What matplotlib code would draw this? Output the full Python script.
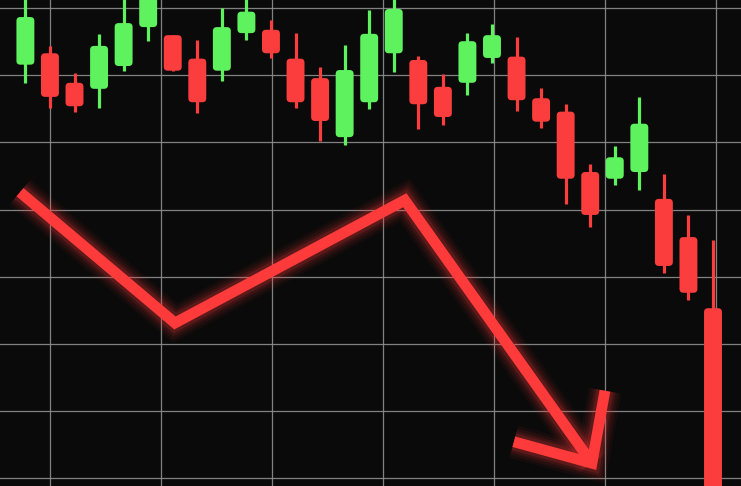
import matplotlib.pyplot as plt
from matplotlib.patches import FancyBboxPatch
import numpy as np

# candle prices (open, close, high, low)
opens = [161.6, 163.3, 158.9, 158.0, 161.4, 167.2, 166.0, 162.5, 160.7, 166.3,
         166.8, 162.5, 159.6, 150.8, 156.0, 163.3, 162.3, 158.3, 158.9, 162.6,
         162.8, 156.6, 154.6, 145.6, 144.6, 145.6, 141.6, 135.9, 125.3]
closes = [168.7, 156.8, 155.4, 164.4, 167.8, 172.0, 160.7, 156.0, 167.2, 169.5,
          163.3, 156.0, 153.2, 160.8, 166.2, 169.9, 155.7, 153.8, 165.1, 166.0,
          156.3, 153.1, 144.6, 139.2, 147.8, 152.8, 131.6, 127.6, 95.0]
highs = [172.5, 164.4, 160.4, 166.2, 171.7, 172.7, 166.0, 165.3, 170.1, 172.3,
         168.3, 166.3, 161.3, 164.5, 169.8, 172.5, 162.9, 160.2, 166.3, 167.7,
         165.7, 158.1, 155.7, 146.8, 149.5, 156.8, 145.3, 139.2, 135.5]
lows = [158.9, 155.1, 154.6, 155.1, 160.7, 165.1, 160.7, 154.4, 159.2, 165.3,
        162.6, 155.1, 150.2, 149.6, 155.0, 160.5, 152.0, 152.6, 157.1, 161.9,
        154.7, 152.2, 140.8, 137.4, 143.7, 142.9, 130.6, 126.5, 95.0]

# the glowing trend arrow (candle index, price)
arrow_x = [-0.22, 6.09, 15.45, 23.07]
arrow_y = [142.6, 123.1, 141.4, 102.2]
head_x = [19.89, 23.07, 23.60]
head_y = [105.4, 102.2, 113.0]

BG = "#0a0a0a"
GREEN = "#5ff25f"
RED = "#fb3d3d"
ARROW = "#ff3a3a"

fig = plt.figure(figsize=(7.41, 4.86), dpi=100, facecolor=BG)
ax = fig.add_axes([0, 0, 1, 1])
ax.set_facecolor(BG)

x0, x1 = -1.034, 29.14
y0, y1 = 98.8, 171.24
ax.set_xlim(x0, x1)
ax.set_ylim(y0, y1)

# grid
ax.set_xticks(1.0 + 4.52 * np.arange(7))
ax.set_yticks(np.arange(100, 171, 10))
ax.grid(True, color="#8f8f8f", linewidth=0.9, alpha=0.9)
ax.set_axisbelow(True)
ax.tick_params(length=0, labelbottom=False, labelleft=False)
for s in ax.spines.values():
    s.set_visible(False)

# aspect between y units and x units per pixel, for rounded bodies
aspect = ((y1 - y0) / 486) / ((x1 - x0) / 741)
body_w = 0.73

for i, (o, c, h, l) in enumerate(zip(opens, closes, highs, lows)):
    col = GREEN if c >= o else RED
    ax.vlines(i, l, h, color=col, linewidth=2.3, zorder=2)
    lo, hi = min(o, c), max(o, c)
    box = FancyBboxPatch((i - body_w / 2, lo), body_w, hi - lo,
                         boxstyle="round,pad=0,rounding_size=0.16",
                         mutation_aspect=aspect, facecolor=col,
                         edgecolor="none", zorder=3)
    ax.add_patch(box)

# glow
for lw, a in [(24, 0.05), (20, 0.07), (16, 0.1), (12.5, 0.16)]:
    ax.plot(arrow_x, arrow_y, color=ARROW, linewidth=lw, alpha=a,
            solid_joinstyle="miter", solid_capstyle="butt", zorder=4)
    ax.plot(head_x, head_y, color=ARROW, linewidth=lw, alpha=a,
            solid_joinstyle="miter", solid_capstyle="butt", zorder=4)
ax.plot(arrow_x, arrow_y, color=ARROW, linewidth=7.8,
        solid_joinstyle="miter", solid_capstyle="butt", zorder=5)
ax.plot(head_x, head_y, color=ARROW, linewidth=7.8,
        solid_joinstyle="miter", solid_capstyle="butt", zorder=5)

fig.savefig("out.png", dpi=100, facecolor=BG)
